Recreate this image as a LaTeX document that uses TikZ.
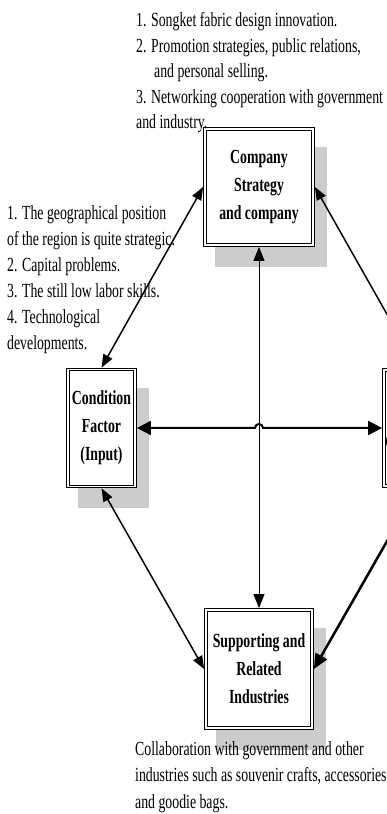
\documentclass[tikz,border=0pt]{standalone}
\usepackage{fontspec}
\newfontfamily\condfont[FakeStretch=0.69]{Liberation Serif}
\usetikzlibrary{arrows.meta,backgrounds,calc}
\begin{document}
\begin{tikzpicture}[x=1pt,y=1pt,
  fbox/.style={draw, double, double distance=1.8pt, line width=1pt, fill=white,
    inner sep=0pt, outer sep=1.9pt, align=center,
    font=\condfont\bfseries\fontsize{20}{28}\selectfont},
  shadowfill/.style={fill=black!20},
  plaintext/.style={anchor=north west, align=left, inner sep=0pt},
  thinarr/.style={{Triangle[length=14pt,width=11pt]}-{Triangle[length=14pt,width=11pt]}, line width=1pt},
  medarr/.style={{Triangle[length=13pt,width=10pt]}-{Triangle[length=13pt,width=10pt]}, line width=1.5pt},
  thickarr/.style={{Triangle[length=14pt,width=14pt]}-{Triangle[length=14pt,width=14pt]}, line width=2pt},
  heavyarr/.style={{Triangle[length=15pt,width=13pt]}-{Triangle[length=15pt,width=13pt]}, line width=2.5pt}]
\useasboundingbox (0,0) rectangle (387,814);
\clip (0,0) rectangle (387,814);

% boxes
\node[fbox, minimum width=108pt, minimum height=116pt] (T) at (259,627) {Company\\Strategy\\and company};
\node[fbox, minimum width=67pt, minimum height=117pt] (L) at (101.5,386) {Condition\\Factor\\(Input)};
\node[fbox, minimum width=106pt, minimum height=118pt] (B) at (259,145) {Supporting and\\Related\\Industries};
\node[fbox, minimum width=67pt, minimum height=116pt] (R) at (417.5,386) {Demand\\Conditions};

% shadows
\begin{scope}[on background layer]
\foreach \n in {T,L,B,R}
  \fill[shadowfill] ($(\n.south west)+(12,-20)$) rectangle ($(\n.north east)+(12,-20)$);
\end{scope}

% texts
\node[plaintext, font=\condfont\fontsize{20}{25.5}\selectfont] (toptext) at (136,801.7)
  {1. Songket fabric design innovation.\\
   2. Promotion strategies, public relations,\\
   \hspace*{18pt}and personal selling.\\
   3. Networking cooperation with government\\
   and industry.};
\node[plaintext, font=\condfont\fontsize{20}{26}\selectfont] (lefttext) at (7,608.7)
  {1. The geographical position\\
   of the region is quite strategic.\\
   2. Capital problems.\\
   3. The still low labor skills.\\
   4. Technological\\
   developments.};
\node[plaintext, font=\condfont\fontsize{20}{26.5}\selectfont] (bottext) at (135,72.7)
  {Collaboration with government and other\\
   industries such as souvenir crafts, accessories\\
   and goodie bags.};

% connectors
\draw[thinarr] (T.south) -- (B.north);
\draw[thickarr] (L.east) -- ($(T.south |- L.east)+(-4,0)$) arc[start angle=180,end angle=0,radius=4] -- (R.west);
\draw[medarr] (L.north) -- (T.west);
\draw[medarr] (L.south) -- (B.west);
\draw[medarr] (T.east) -- (R.north);
\draw[heavyarr] (R.south) -- (B.east);
\end{tikzpicture}
\end{document}
